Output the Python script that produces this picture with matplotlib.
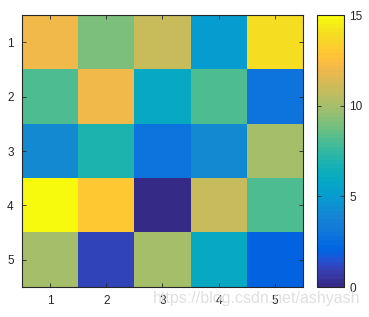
import matplotlib.pyplot as plt
from matplotlib.colors import ListedColormap
import numpy as np

# Werte der 5x5-Matrix
row1 = [12, 9, 11, 5, 14]
row2 = [8, 12, 6, 8, 3]
row3 = [4, 7, 3, 4, 10]
row4 = [15, 13, 0, 11, 8]
row5 = [10, 1, 10, 6, 2]
tick_labels = ['1', '2', '3', '4', '5']
cbar_ticks = [0, 5, 10, 15]

# MATLAB parula (64 Stufen)
parula = [
    [0.2081, 0.1663, 0.5292], [0.2116, 0.1898, 0.5777], [0.2123, 0.2138, 0.6270],
    [0.2081, 0.2386, 0.6771], [0.1959, 0.2645, 0.7279], [0.1707, 0.2919, 0.7792],
    [0.1253, 0.3242, 0.8303], [0.0591, 0.3598, 0.8683], [0.0117, 0.3875, 0.8820],
    [0.0060, 0.4086, 0.8828], [0.0165, 0.4266, 0.8786], [0.0329, 0.4430, 0.8720],
    [0.0498, 0.4586, 0.8641], [0.0629, 0.4737, 0.8554], [0.0723, 0.4887, 0.8467],
    [0.0779, 0.5040, 0.8384], [0.0793, 0.5200, 0.8312], [0.0749, 0.5375, 0.8263],
    [0.0641, 0.5570, 0.8240], [0.0488, 0.5772, 0.8228], [0.0343, 0.5966, 0.8199],
    [0.0265, 0.6137, 0.8135], [0.0239, 0.6287, 0.8038], [0.0231, 0.6418, 0.7913],
    [0.0228, 0.6535, 0.7768], [0.0267, 0.6642, 0.7607], [0.0384, 0.6743, 0.7436],
    [0.0590, 0.6838, 0.7254], [0.0843, 0.6928, 0.7062], [0.1133, 0.7015, 0.6859],
    [0.1453, 0.7098, 0.6646], [0.1801, 0.7177, 0.6424], [0.2178, 0.7250, 0.6193],
    [0.2586, 0.7317, 0.5954], [0.3022, 0.7376, 0.5712], [0.3482, 0.7424, 0.5473],
    [0.3953, 0.7459, 0.5244], [0.4420, 0.7481, 0.5033], [0.4871, 0.7491, 0.4840],
    [0.5300, 0.7491, 0.4661], [0.5709, 0.7485, 0.4494], [0.6099, 0.7473, 0.4337],
    [0.6473, 0.7456, 0.4188], [0.6834, 0.7435, 0.4044], [0.7184, 0.7411, 0.3905],
    [0.7525, 0.7384, 0.3768], [0.7858, 0.7356, 0.3633], [0.8185, 0.7327, 0.3498],
    [0.8507, 0.7299, 0.3360], [0.8824, 0.7274, 0.3217], [0.9139, 0.7258, 0.3063],
    [0.9450, 0.7261, 0.2886], [0.9739, 0.7314, 0.2666], [0.9938, 0.7455, 0.2403],
    [0.9990, 0.7653, 0.2164], [0.9955, 0.7861, 0.1967], [0.9880, 0.8066, 0.1794],
    [0.9789, 0.8271, 0.1633], [0.9697, 0.8481, 0.1475], [0.9626, 0.8705, 0.1309],
    [0.9589, 0.8949, 0.1132], [0.9598, 0.9218, 0.0948], [0.9661, 0.9514, 0.0755],
    [0.9763, 0.9831, 0.0538],
]
cmap = ListedColormap(parula)

plt.rcParams['font.family'] = ['Liberation Sans', 'DejaVu Sans']
plt.rcParams['font.size'] = 8.5

data = np.array([row1, row2, row3, row4, row5])

fig = plt.figure(figsize=(3.69, 3.17), dpi=100)
ax = fig.add_axes([0.0596, 0.0946, 0.7614, 0.858])
cax = fig.add_axes([0.859, 0.0946, 0.073, 0.858])

n = len(tick_labels)
im = ax.imshow(data, cmap=cmap, vmin=0, vmax=15, aspect='auto',
               extent=[0.5, n + 0.5, n + 0.5, 0.5], interpolation='nearest')
ax.set_xticks(range(1, n + 1))
ax.set_yticks(range(1, n + 1))
ax.set_xticklabels(tick_labels)
ax.set_yticklabels(tick_labels)
ax.tick_params(direction='in', length=3, width=0.6, colors='#262626',
               top=True, right=True, pad=6)
for s in ax.spines.values():
    s.set_color('#262626')
    s.set_linewidth(0.8)

cb = fig.colorbar(im, cax=cax, ticks=cbar_ticks)
cb.outline.set_edgecolor('#262626')
cb.outline.set_linewidth(0.8)
cax.tick_params(direction='in', length=3, width=0.6, colors='#262626', pad=4,
                left=True)

# Wasserzeichen
fig.text(0.977, 0.058, 'https://blog.csdn.net/ashyash', ha='right', va='center',
         fontsize=11.5, color='#dcdcdc', alpha=0.9)

plt.savefig('out.png', dpi=100)
plt.close()
